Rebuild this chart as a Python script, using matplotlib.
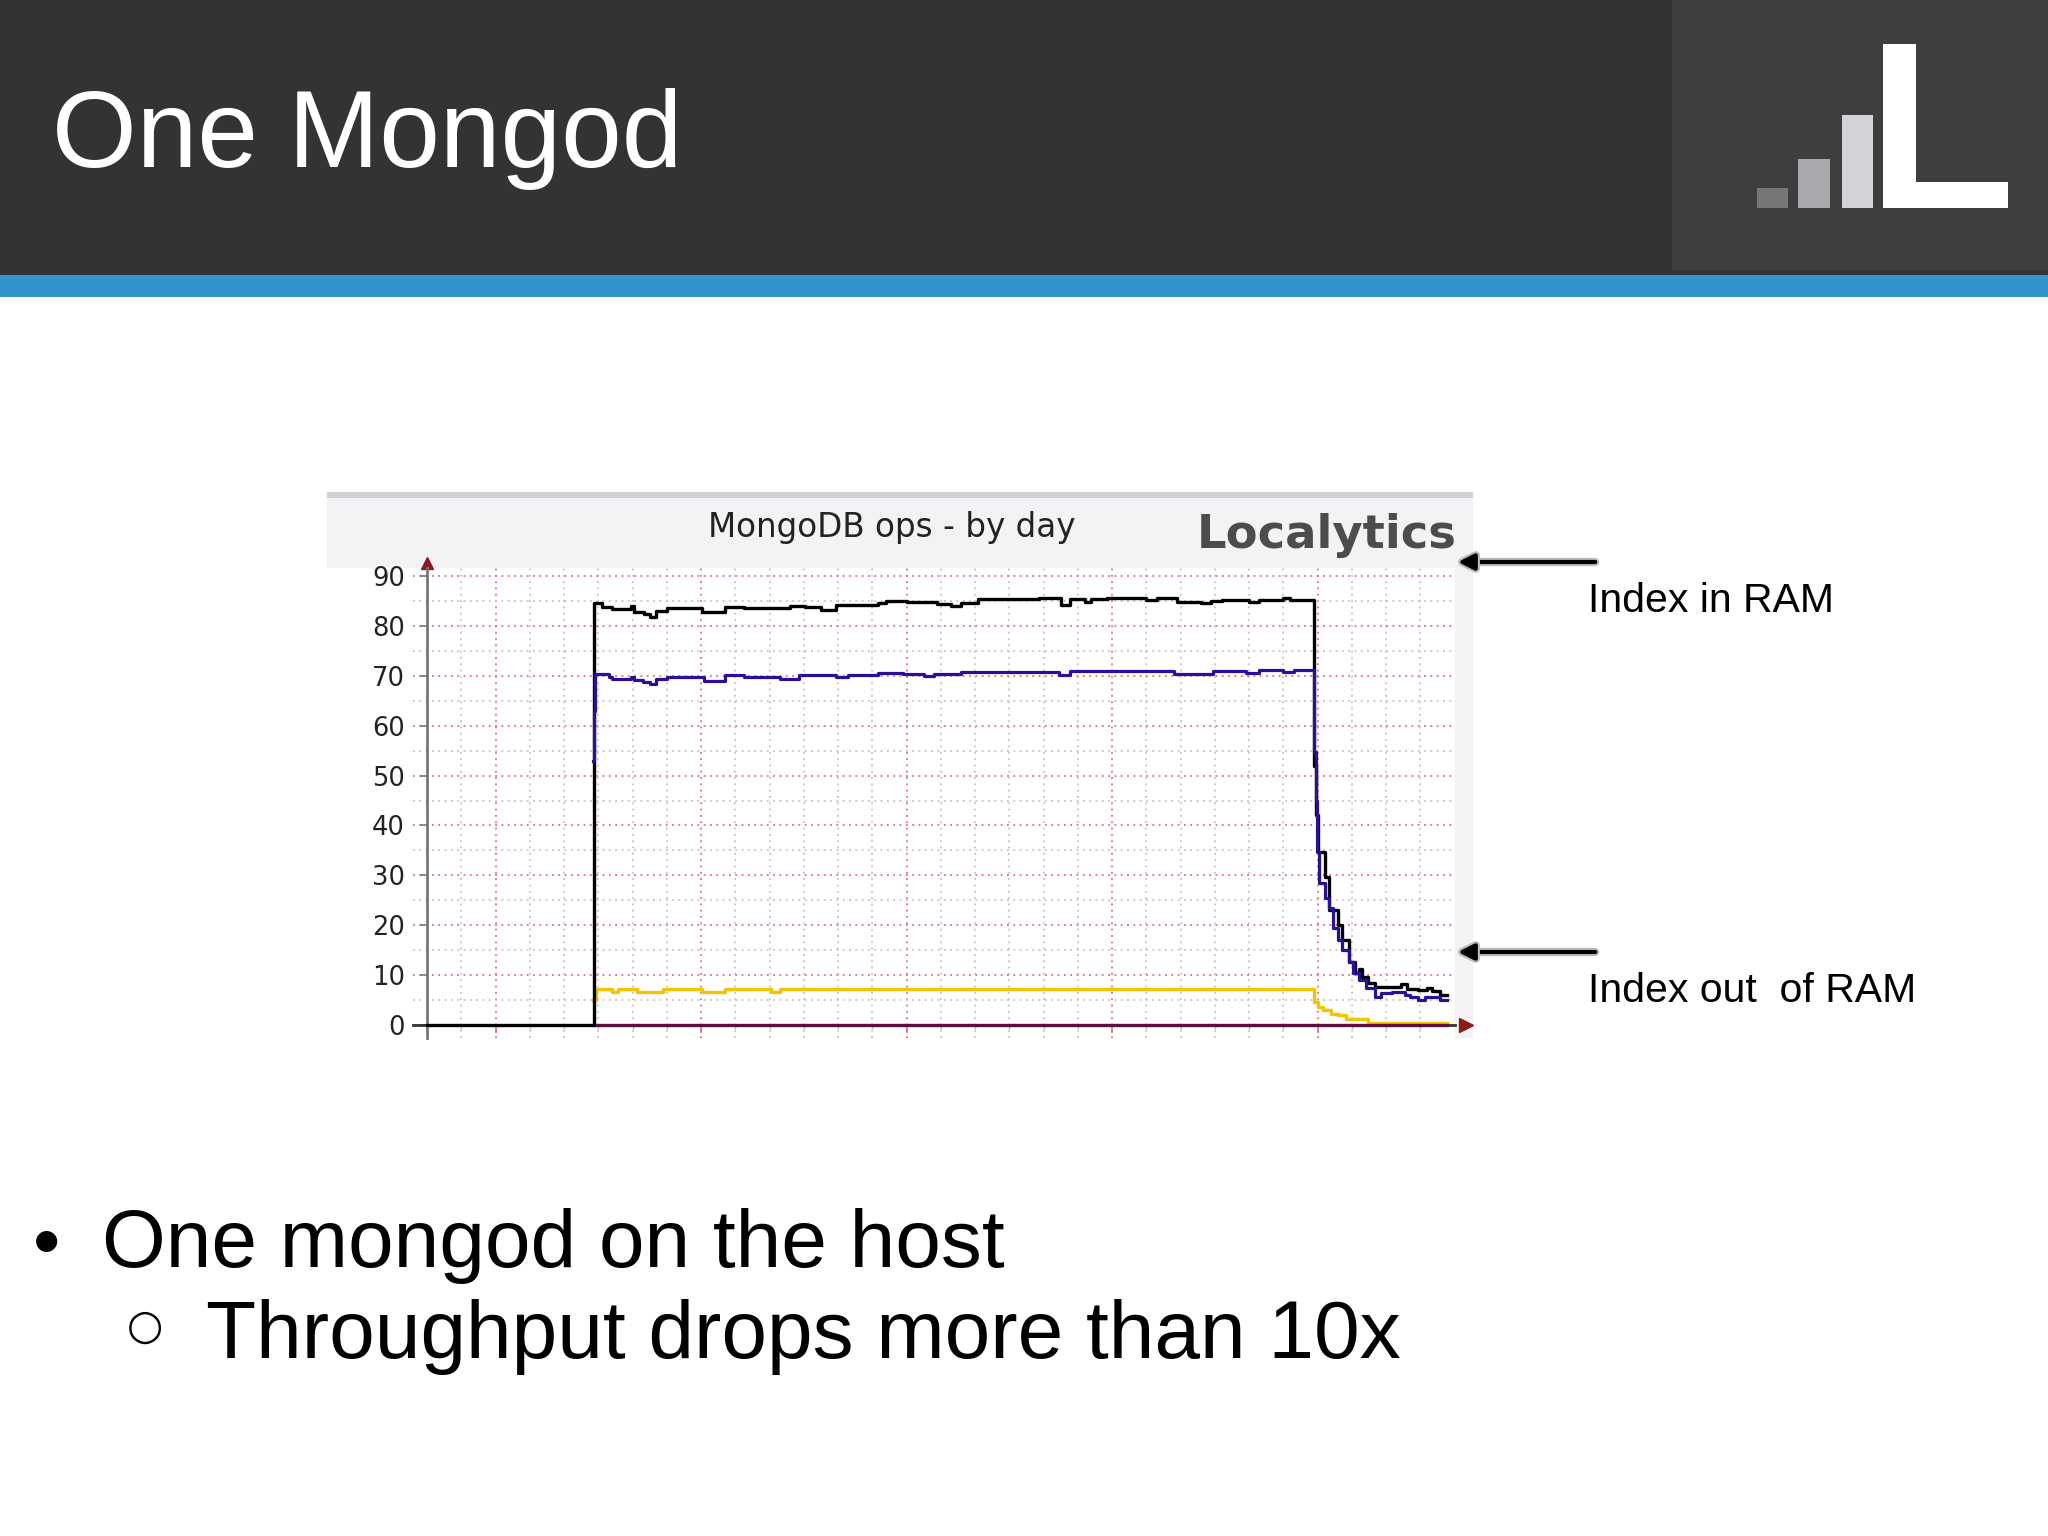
import matplotlib
matplotlib.use("Agg")
import matplotlib.pyplot as plt
from matplotlib.patches import Rectangle, FancyArrowPatch
import matplotlib.patheffects as pe

# --- data (x in grid columns, y in ops) ---
black_x = [0, 4.88, 5.10, 5.40, 5.95, 6.05, 6.35, 6.50, 6.70, 7.02, 8.02, 8.69, 9.25,
           10.6, 11.04, 11.5, 11.93, 13.16, 13.39, 14.0, 14.89, 15.3, 15.6, 16.08,
           17.86, 18.51, 18.78, 19.2, 19.4, 19.86, 21.0, 21.3, 21.91, 22.6, 22.9,
           23.2, 24.0, 24.3, 25.0, 25.2, 25.90, 25.95, 26.01, 26.23, 26.34, 26.61,
           26.71, 26.93, 27.09, 27.20, 27.31, 27.47, 27.69, 28.44, 28.60, 28.93,
           29.20, 29.35, 29.58, 29.79]
black_y = [0, 84.6, 83.8, 83.3, 83.9, 82.8, 82.3, 81.8, 83.0, 83.5, 82.8, 83.8, 83.5,
           84.0, 83.7, 83.2, 84.2, 84.6, 85.0, 84.8, 84.4, 84.0, 84.5, 85.3,
           85.6, 84.2, 85.3, 84.7, 85.4, 85.6, 85.2, 85.6, 84.8, 84.5, 84.9,
           85.2, 84.8, 85.2, 85.5, 85.1, 52.0, 42.0, 34.7, 29.7, 23.0, 20.0,
           17.0, 12.7, 10.4, 11.2, 9.6, 8.4, 7.7, 8.2, 7.3, 7.0,
           7.4, 6.9, 6.0, 6.0]

purple_x = [4.85, 4.87, 4.90, 5.30, 5.40, 5.95, 6.05, 6.30, 6.50, 6.68, 7.02, 8.10,
            8.69, 9.25, 10.3, 10.85, 11.93, 12.3, 13.16, 13.9, 14.5, 14.8, 15.6,
            18.45, 18.78, 21.8, 22.95, 23.9, 24.3, 25.0, 25.3, 25.90, 25.95, 25.99,
            26.05, 26.23, 26.34, 26.44, 26.61, 26.71, 26.93, 27.04, 27.20, 27.42,
            27.69, 27.85, 28.17, 28.55, 28.71, 28.93, 29.14, 29.58, 29.79]
purple_y = [53.0, 63.0, 70.4, 69.8, 69.3, 69.8, 69.1, 68.7, 68.3, 69.4, 69.8, 69.0,
            70.2, 69.8, 69.4, 70.1, 69.8, 70.2, 70.6, 70.3, 69.9, 70.3, 70.8,
            70.2, 71.0, 70.4, 71.0, 70.5, 71.2, 70.7, 71.1, 54.8, 45.0, 34.7,
            28.4, 25.4, 23.4, 19.4, 17.0, 15.0, 12.7, 10.4, 9.0, 7.4,
            5.7, 6.4, 6.7, 6.0, 5.7, 5.0, 5.7, 5.0, 5.0]

yellow_x = [4.86, 4.92, 5.40, 5.57, 6.12, 6.90, 8.02, 8.69, 10.03, 10.31, 25.90,
            26.01, 26.17, 26.39, 26.61, 26.82, 27.47, 29.79]
yellow_y = [5.0, 7.15, 6.6, 7.15, 6.6, 7.15, 6.6, 7.15, 6.7, 7.15, 4.7,
            3.7, 3.0, 2.3, 2.0, 1.3, 0.5, 0.5]

base_x = [4.88, 29.79]
base_y = [0, 0]

yticks = list(range(0, 91, 10))
major_cols = [2, 8, 14, 20, 26]
minor_cols = [c for c in range(1, 30) if c not in major_cols]

W, H = 2048, 1536
fig = plt.figure(figsize=(W / 100, H / 100), dpi=100)
fig.patch.set_facecolor("white")


def box(x0, y0, x1, y1, color, z=0):
    fig.add_artist(Rectangle((x0 / W, 1 - y1 / H), (x1 - x0) / W, (y1 - y0) / H,
                             transform=fig.transFigure, facecolor=color,
                             edgecolor="none", zorder=z))


def ftext(x, y, s, **kw):
    fig.text(x / W, 1 - y / H, s, **kw)


# header band, logo box, blue stripe
box(0, 0, W, 276, "#333333")
box(1672, 0, W, 270, "#3e3e3e", 1)
box(0, 275, W, 297, "#2f95cc", 1)
box(1757, 188, 1788, 208, "#777777", 2)
box(1798, 159, 1830, 208, "#a9a9ad", 2)
box(1842, 115, 1873, 208, "#d4d4d8", 2)
box(1883, 44, 1916, 208, "#ffffff", 2)
box(1883, 182, 2008, 208, "#ffffff", 2)

ftext(52, 167, "One Mongod", color="white", fontsize=78.5,
      family="Liberation Sans", va="baseline")

# chart panel
box(327, 492, 1473, 1038, "#f3f3f5")
box(327, 492, 1473, 498, "#d2d2d6", 1)
box(327, 568, 1453, 1038, "#ffffff", 1)

ax = fig.add_axes([413.3 / W, 1 - 1038 / H, (1454.5 - 413.3) / W, (1038 - 568) / H])
ax.set_zorder(3)
ax.set_xlim(-0.4, 30.0)
ax.set_ylim(-2.6, 91.6)
ax.set_facecolor("white")

ax.set_yticks(yticks)
ax.set_yticks([v + 5 for v in yticks[:-1]], minor=True)
ax.set_xticks(major_cols)
ax.set_xticks(minor_cols, minor=True)
ax.set_xticklabels([])
ax.tick_params(axis="y", which="major", length=5, width=1.2, color="#777777",
               pad=11, labelsize=18.5, labelcolor="#222222")
ax.tick_params(axis="y", which="minor", length=0)
ax.tick_params(axis="x", which="major", length=6, width=1.2, color="#e07080")
ax.tick_params(axis="x", which="minor", length=3, width=1, color="#bbbbbb")
for lab in ax.get_yticklabels():
    lab.set_family("DejaVu Sans")

ax.grid(which="major", color="#e07080", linestyle=(0, (1, 2.5)), linewidth=1.3)
ax.grid(which="minor", color="#c4c4c4", linestyle=(0, (1, 2.5)), linewidth=1.3)
ax.set_axisbelow(True)

for s in ["top", "right"]:
    ax.spines[s].set_visible(False)
ax.spines["left"].set_position(("data", 0))
ax.spines["left"].set_color("#777777")
ax.spines["left"].set_linewidth(2)
ax.spines["bottom"].set_position(("data", 0))
ax.spines["bottom"].set_color("#333333")
ax.spines["bottom"].set_linewidth(2)
ax.plot([0], [92.6], marker="^", color="#8b1a1a", markersize=9, clip_on=False)
ax.plot([30.35], [0], marker=">", color="#8b1a1a", markersize=10, clip_on=False)

ax.step(yellow_x, yellow_y, where="post", color="#f5c400", lw=2.4, zorder=4)
ax.step(base_x, base_y, where="post", color="#5a1040", lw=2.4, zorder=4)
ax.step(black_x, black_y, where="post", color="black", lw=2.4, zorder=5)
ax.step(purple_x, purple_y, where="post", color="#2c0e9c", lw=2.3, zorder=6)

ftext(708, 537, "MongoDB ops - by day", fontsize=23.5, family="DejaVu Sans",
      color="#222222", va="baseline", zorder=5)
ftext(1457, 548, "Localytics", fontsize=33.5, family="DejaVu Sans",
      fontweight="bold", color="#4c4c4c", ha="right", va="baseline", zorder=5)

# annotations
for y, label in [(562, "Index in RAM"), (952, "Index out  of RAM")]:
    arr = FancyArrowPatch((1598 / W, 1 - y / H), (1455 / W, 1 - y / H),
                          transform=fig.transFigure, arrowstyle="-|>",
                          mutation_scale=24, lw=3, color="black", zorder=6)
    arr.set_path_effects([pe.withStroke(linewidth=6, foreground="#bbbbbb")])
    fig.add_artist(arr)
    ftext(1588, y + 50, label, fontsize=29.5, family="Liberation Sans",
          color="black", va="baseline")

# bullets
ftext(47, 1267, "\u2022", fontsize=56, family="Liberation Sans",
      ha="center", va="baseline")
ftext(102, 1267, "One mongod on the host", fontsize=59,
      family="Liberation Sans", va="baseline")
ftext(145, 1327, "\u25cb", fontsize=30, family="DejaVu Sans",
      ha="center", va="center")
ftext(206, 1358, "Throughput drops more than 10x", fontsize=59,
      family="Liberation Sans", va="baseline")

fig.savefig("out.png", dpi=100)
